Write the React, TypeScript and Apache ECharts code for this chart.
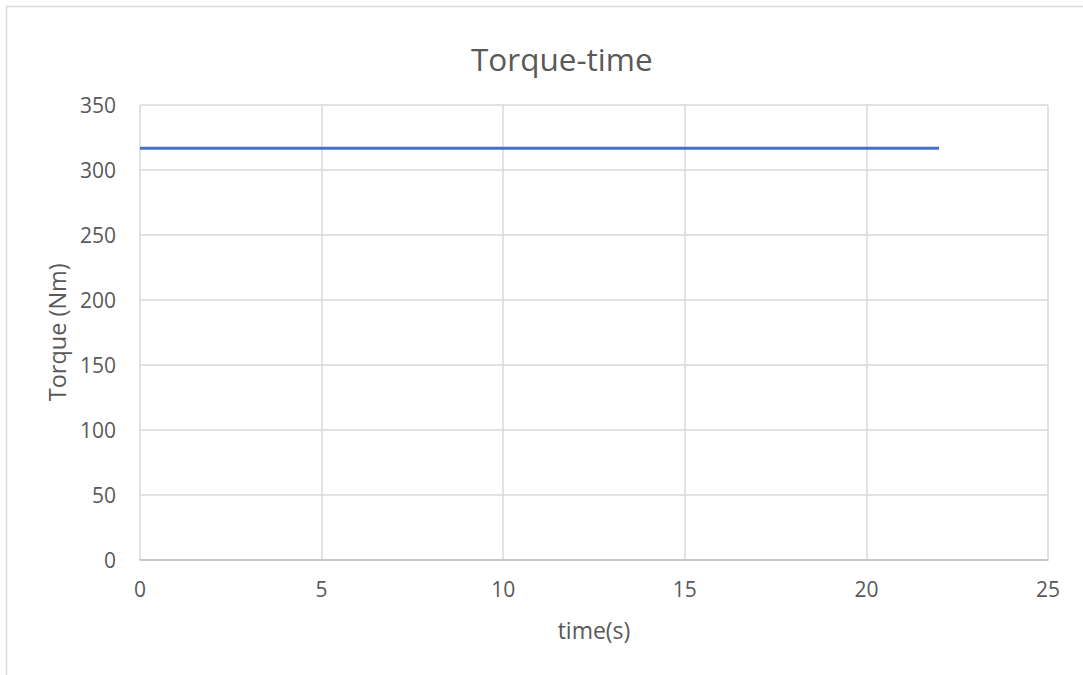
import React, { useEffect, useRef } from "react";
import * as echarts from "echarts";

const timeS = [0, 2, 4, 6, 8, 10, 12, 14, 16, 18, 20, 22];
const torqueNm = [316.7, 316.7, 316.7, 316.7, 316.7, 316.7, 316.7, 316.7, 316.7, 316.7, 316.7, 316.7];
const titleText = "Torque-time";
const xName = "time(s)";
const yName = "Torque (Nm)";

const FONT = "'Open Sans', 'Liberation Sans', sans-serif";
const TEXT = "#595959";

export default function App() {
  const ref = useRef<HTMLDivElement>(null);
  useEffect(() => {
    document.body.style.margin = "0";
    const chart = echarts.init(ref.current!, null, { renderer: "svg" });
    chart.setOption({
      animation: false,
      backgroundColor: "#ffffff",
      title: {
        text: titleText,
        left: 466,
        top: 37,
        textStyle: { fontFamily: FONT, fontSize: 31.5, fontWeight: "normal", color: TEXT },
      },
      graphic: [
        {
          type: "rect",
          shape: { x: 6.5, y: 6.5, width: 1200, height: 800 },
          style: { fill: "none", stroke: "#d9d9d9", lineWidth: 1.5 },
          silent: true,
        },
      ],
      grid: { left: 140, top: 105, width: 908, height: 454.5 },
      xAxis: {
        type: "value",
        min: 0,
        max: 25,
        interval: 5,
        name: xName,
        nameLocation: "middle",
        nameGap: 59,
        nameTextStyle: { fontFamily: FONT, fontSize: 23, color: TEXT },
        axisLine: { show: true, lineStyle: { color: "#bfbfbf", width: 1.5 } },
        axisTick: { show: false },
        axisLabel: { margin: 19, fontFamily: FONT, fontSize: 21, color: TEXT },
        splitLine: { show: true, lineStyle: { color: "#d9d9d9", width: 1.5 } },
      },
      yAxis: {
        type: "value",
        min: 0,
        max: 350,
        interval: 50,
        name: yName,
        nameLocation: "middle",
        nameGap: 70,
        nameTextStyle: { fontFamily: FONT, fontSize: 23.5, color: TEXT },
        axisLine: { show: false },
        axisTick: { show: false },
        axisLabel: { margin: 24, fontFamily: FONT, fontSize: 21, color: TEXT },
        splitLine: { show: true, lineStyle: { color: "#d9d9d9", width: 1.5 } },
      },
      series: [
        {
          type: "line",
          data: timeS.map((t, i) => [t, torqueNm[i]]),
          showSymbol: false,
          lineStyle: { color: "#4472C4", width: 3 },
          itemStyle: { color: "#4472C4" },
        },
      ],
    });
    return () => chart.dispose();
  }, []);
  return <div ref={ref} style={{ width: 1083, height: 675 }} />;
}
